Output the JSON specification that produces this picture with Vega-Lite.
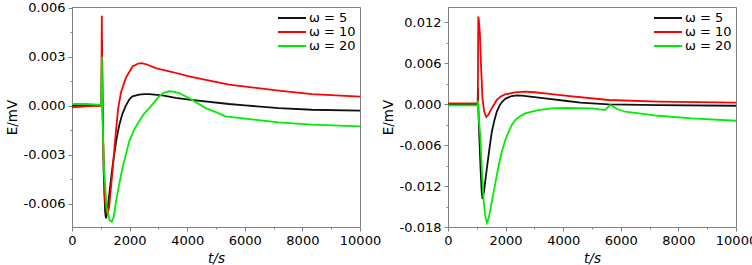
{
  "$schema": "https://vega.github.io/schema/vega-lite/v6.json",
  "padding": {"left": 4, "top": 1, "right": 0, "bottom": 0},
  "bounds": "flush",
  "spacing": 88,
  "config": {
    "font": "DejaVu Sans",
    "view": {"stroke": "#808080", "strokeWidth": 1},
    "axis": {"grid": false, "domainColor": "#808080", "tickColor": "#808080", "labelFont": "DejaVu Sans", "titleFont": "DejaVu Sans", "labelFontSize": 13, "titleFontSize": 13.5, "titleFontWeight": "normal", "labelColor": "#000000", "titleColor": "#000000", "labelPadding": 3, "labelOverlap": false, "labelFlush": false, "labelBound": false},
    "legend": {"symbolType": "M-2.33,0H2.33", "symbolSize": 144, "symbolStrokeWidth": 2, "labelFont": "DejaVu Sans", "labelFontSize": 13, "labelOffset": 10, "rowPadding": 0, "padding": 0, "offset": 4, "labelLimit": 0, "labelColor": "#000000"}
  },
  "datasets": {
    "curves": [
      {"p":"a","s":"ω = 5","t":0,"E":0.0},
      {"p":"a","s":"ω = 5","t":500,"E":0.00002},
      {"p":"a","s":"ω = 5","t":1000,"E":0.0},
      {"p":"a","s":"ω = 5","t":1025,"E":0.0},
      {"p":"a","s":"ω = 5","t":1040,"E":0.004},
      {"p":"a","s":"ω = 5","t":1060,"E":0.0},
      {"p":"a","s":"ω = 5","t":1100,"E":-0.004},
      {"p":"a","s":"ω = 5","t":1150,"E":-0.0065},
      {"p":"a","s":"ω = 5","t":1180,"E":-0.0069},
      {"p":"a","s":"ω = 5","t":1220,"E":-0.0066},
      {"p":"a","s":"ω = 5","t":1290,"E":-0.0055},
      {"p":"a","s":"ω = 5","t":1380,"E":-0.0041},
      {"p":"a","s":"ω = 5","t":1465,"E":-0.003},
      {"p":"a","s":"ω = 5","t":1550,"E":-0.002},
      {"p":"a","s":"ω = 5","t":1640,"E":-0.0012},
      {"p":"a","s":"ω = 5","t":1750,"E":-0.0005},
      {"p":"a","s":"ω = 5","t":1870,"E":0.0},
      {"p":"a","s":"ω = 5","t":2000,"E":0.0004},
      {"p":"a","s":"ω = 5","t":2100,"E":0.00057},
      {"p":"a","s":"ω = 5","t":2330,"E":0.00068},
      {"p":"a","s":"ω = 5","t":2500,"E":0.00071},
      {"p":"a","s":"ω = 5","t":2680,"E":0.00071},
      {"p":"a","s":"ω = 5","t":3140,"E":0.00063},
      {"p":"a","s":"ω = 5","t":3600,"E":0.00047},
      {"p":"a","s":"ω = 5","t":4060,"E":0.00037},
      {"p":"a","s":"ω = 5","t":5450,"E":0.0001},
      {"p":"a","s":"ω = 5","t":6000,"E":0.00002},
      {"p":"a","s":"ω = 5","t":7180,"E":-0.00015},
      {"p":"a","s":"ω = 5","t":8330,"E":-0.00025},
      {"p":"a","s":"ω = 5","t":10000,"E":-0.00031},

      {"p":"a","s":"ω = 10","t":0,"E":-0.0001},
      {"p":"a","s":"ω = 10","t":500,"E":-0.00005},
      {"p":"a","s":"ω = 10","t":1000,"E":0.0},
      {"p":"a","s":"ω = 10","t":1020,"E":0.0},
      {"p":"a","s":"ω = 10","t":1035,"E":0.0055},
      {"p":"a","s":"ω = 10","t":1045,"E":0.003},
      {"p":"a","s":"ω = 10","t":1080,"E":-0.002},
      {"p":"a","s":"ω = 10","t":1130,"E":-0.0055},
      {"p":"a","s":"ω = 10","t":1200,"E":-0.0066},
      {"p":"a","s":"ω = 10","t":1240,"E":-0.0066},
      {"p":"a","s":"ω = 10","t":1290,"E":-0.0062},
      {"p":"a","s":"ω = 10","t":1380,"E":-0.0045},
      {"p":"a","s":"ω = 10","t":1465,"E":-0.0028},
      {"p":"a","s":"ω = 10","t":1540,"E":-0.0013},
      {"p":"a","s":"ω = 10","t":1600,"E":-0.0002},
      {"p":"a","s":"ω = 10","t":1700,"E":0.0008},
      {"p":"a","s":"ω = 10","t":1870,"E":0.0017},
      {"p":"a","s":"ω = 10","t":2100,"E":0.0024},
      {"p":"a","s":"ω = 10","t":2300,"E":0.00258},
      {"p":"a","s":"ω = 10","t":2420,"E":0.0026},
      {"p":"a","s":"ω = 10","t":2600,"E":0.00252},
      {"p":"a","s":"ω = 10","t":2910,"E":0.0023},
      {"p":"a","s":"ω = 10","t":3485,"E":0.00206},
      {"p":"a","s":"ω = 10","t":4060,"E":0.00179},
      {"p":"a","s":"ω = 10","t":5450,"E":0.00129},
      {"p":"a","s":"ω = 10","t":7180,"E":0.00092},
      {"p":"a","s":"ω = 10","t":8330,"E":0.00071},
      {"p":"a","s":"ω = 10","t":10000,"E":0.00055},

      {"p":"a","s":"ω = 20","t":0,"E":0.0001},
      {"p":"a","s":"ω = 20","t":500,"E":0.0001},
      {"p":"a","s":"ω = 20","t":1000,"E":0.00005},
      {"p":"a","s":"ω = 20","t":1020,"E":0.0},
      {"p":"a","s":"ω = 20","t":1035,"E":0.003},
      {"p":"a","s":"ω = 20","t":1050,"E":0.0},
      {"p":"a","s":"ω = 20","t":1100,"E":-0.0035},
      {"p":"a","s":"ω = 20","t":1200,"E":-0.0062},
      {"p":"a","s":"ω = 20","t":1300,"E":-0.007},
      {"p":"a","s":"ω = 20","t":1380,"E":-0.0071},
      {"p":"a","s":"ω = 20","t":1450,"E":-0.0068},
      {"p":"a","s":"ω = 20","t":1525,"E":-0.0059},
      {"p":"a","s":"ω = 20","t":1640,"E":-0.0048},
      {"p":"a","s":"ω = 20","t":1755,"E":-0.0038},
      {"p":"a","s":"ω = 20","t":1870,"E":-0.003},
      {"p":"a","s":"ω = 20","t":1985,"E":-0.0022},
      {"p":"a","s":"ω = 20","t":2150,"E":-0.0015},
      {"p":"a","s":"ω = 20","t":2330,"E":-0.00096},
      {"p":"a","s":"ω = 20","t":2500,"E":-0.0005},
      {"p":"a","s":"ω = 20","t":2680,"E":-0.00015},
      {"p":"a","s":"ω = 20","t":2850,"E":0.0002},
      {"p":"a","s":"ω = 20","t":3025,"E":0.00057},
      {"p":"a","s":"ω = 20","t":3200,"E":0.0008},
      {"p":"a","s":"ω = 20","t":3370,"E":0.00088},
      {"p":"a","s":"ω = 20","t":3550,"E":0.00085},
      {"p":"a","s":"ω = 20","t":3715,"E":0.00077},
      {"p":"a","s":"ω = 20","t":4060,"E":0.00047},
      {"p":"a","s":"ω = 20","t":4640,"E":-0.00015},
      {"p":"a","s":"ω = 20","t":5000,"E":-0.0004},
      {"p":"a","s":"ω = 20","t":5330,"E":-0.00066},
      {"p":"a","s":"ω = 20","t":6030,"E":-0.0008},
      {"p":"a","s":"ω = 20","t":7180,"E":-0.00102},
      {"p":"a","s":"ω = 20","t":8330,"E":-0.00116},
      {"p":"a","s":"ω = 20","t":10000,"E":-0.00127},

      {"p":"b","s":"ω = 5","t":0,"E":0.0},
      {"p":"b","s":"ω = 5","t":1000,"E":0.0},
      {"p":"b","s":"ω = 5","t":1030,"E":0.0},
      {"p":"b","s":"ω = 5","t":1040,"E":0.0024},
      {"p":"b","s":"ω = 5","t":1050,"E":0.0},
      {"p":"b","s":"ω = 5","t":1085,"E":-0.0045},
      {"p":"b","s":"ω = 5","t":1130,"E":-0.0094},
      {"p":"b","s":"ω = 5","t":1170,"E":-0.0128},
      {"p":"b","s":"ω = 5","t":1198,"E":-0.0139},
      {"p":"b","s":"ω = 5","t":1250,"E":-0.0128},
      {"p":"b","s":"ω = 5","t":1350,"E":-0.0094},
      {"p":"b","s":"ω = 5","t":1440,"E":-0.0065},
      {"p":"b","s":"ω = 5","t":1520,"E":-0.0041},
      {"p":"b","s":"ω = 5","t":1610,"E":-0.0024},
      {"p":"b","s":"ω = 5","t":1695,"E":-0.0011},
      {"p":"b","s":"ω = 5","t":1780,"E":-0.0003},
      {"p":"b","s":"ω = 5","t":1870,"E":0.0003},
      {"p":"b","s":"ω = 5","t":2000,"E":0.0008},
      {"p":"b","s":"ω = 5","t":2215,"E":0.00117},
      {"p":"b","s":"ω = 5","t":2400,"E":0.00125},
      {"p":"b","s":"ω = 5","t":2560,"E":0.00122},
      {"p":"b","s":"ω = 5","t":3000,"E":0.001},
      {"p":"b","s":"ω = 5","t":3370,"E":0.00082},
      {"p":"b","s":"ω = 5","t":4060,"E":0.00048},
      {"p":"b","s":"ω = 5","t":4600,"E":0.0002},
      {"p":"b","s":"ω = 5","t":5580,"E":-0.00006},
      {"p":"b","s":"ω = 5","t":7310,"E":-0.00015},
      {"p":"b","s":"ω = 5","t":10000,"E":-0.00025},

      {"p":"b","s":"ω = 10","t":0,"E":0.0001},
      {"p":"b","s":"ω = 10","t":1000,"E":0.0001},
      {"p":"b","s":"ω = 10","t":1035,"E":0.0001},
      {"p":"b","s":"ω = 10","t":1052,"E":0.0128},
      {"p":"b","s":"ω = 10","t":1068,"E":0.0124},
      {"p":"b","s":"ω = 10","t":1106,"E":0.0105},
      {"p":"b","s":"ω = 10","t":1152,"E":0.0052},
      {"p":"b","s":"ω = 10","t":1198,"E":0.0008},
      {"p":"b","s":"ω = 10","t":1256,"E":-0.0011},
      {"p":"b","s":"ω = 10","t":1325,"E":-0.0019},
      {"p":"b","s":"ω = 10","t":1400,"E":-0.0016},
      {"p":"b","s":"ω = 10","t":1460,"E":-0.0011},
      {"p":"b","s":"ω = 10","t":1520,"E":-0.0006},
      {"p":"b","s":"ω = 10","t":1610,"E":0.0},
      {"p":"b","s":"ω = 10","t":1695,"E":0.0006},
      {"p":"b","s":"ω = 10","t":1830,"E":0.0011},
      {"p":"b","s":"ω = 10","t":1985,"E":0.0014},
      {"p":"b","s":"ω = 10","t":2330,"E":0.0017},
      {"p":"b","s":"ω = 10","t":2675,"E":0.0018},
      {"p":"b","s":"ω = 10","t":3000,"E":0.00172},
      {"p":"b","s":"ω = 10","t":3370,"E":0.00155},
      {"p":"b","s":"ω = 10","t":4060,"E":0.00122},
      {"p":"b","s":"ω = 10","t":5580,"E":0.00059},
      {"p":"b","s":"ω = 10","t":7310,"E":0.00034},
      {"p":"b","s":"ω = 10","t":10000,"E":0.0002},

      {"p":"b","s":"ω = 20","t":0,"E":-0.0002},
      {"p":"b","s":"ω = 20","t":1000,"E":-0.0002},
      {"p":"b","s":"ω = 20","t":1030,"E":-0.0002},
      {"p":"b","s":"ω = 20","t":1040,"E":0.0005},
      {"p":"b","s":"ω = 20","t":1050,"E":-0.001},
      {"p":"b","s":"ω = 20","t":1118,"E":-0.0045},
      {"p":"b","s":"ω = 20","t":1175,"E":-0.0094},
      {"p":"b","s":"ω = 20","t":1233,"E":-0.0139},
      {"p":"b","s":"ω = 20","t":1290,"E":-0.0163},
      {"p":"b","s":"ω = 20","t":1350,"E":-0.0174},
      {"p":"b","s":"ω = 20","t":1420,"E":-0.0166},
      {"p":"b","s":"ω = 20","t":1520,"E":-0.0143},
      {"p":"b","s":"ω = 20","t":1610,"E":-0.0123},
      {"p":"b","s":"ω = 20","t":1695,"E":-0.0104},
      {"p":"b","s":"ω = 20","t":1780,"E":-0.0086},
      {"p":"b","s":"ω = 20","t":1870,"E":-0.007},
      {"p":"b","s":"ω = 20","t":1985,"E":-0.0053},
      {"p":"b","s":"ω = 20","t":2100,"E":-0.0041},
      {"p":"b","s":"ω = 20","t":2210,"E":-0.0031},
      {"p":"b","s":"ω = 20","t":2330,"E":-0.00235},
      {"p":"b","s":"ω = 20","t":2500,"E":-0.0018},
      {"p":"b","s":"ω = 20","t":2675,"E":-0.00138},
      {"p":"b","s":"ω = 20","t":3135,"E":-0.00088},
      {"p":"b","s":"ω = 20","t":3600,"E":-0.00064},
      {"p":"b","s":"ω = 20","t":4060,"E":-0.00058},
      {"p":"b","s":"ω = 20","t":5000,"E":-0.00064},
      {"p":"b","s":"ω = 20","t":5445,"E":-0.00088},
      {"p":"b","s":"ω = 20","t":5640,"E":-0.00015},
      {"p":"b","s":"ω = 20","t":5870,"E":-0.00073},
      {"p":"b","s":"ω = 20","t":6160,"E":-0.00113},
      {"p":"b","s":"ω = 20","t":7310,"E":-0.00172},
      {"p":"b","s":"ω = 20","t":8465,"E":-0.00211},
      {"p":"b","s":"ω = 20","t":10000,"E":-0.00245}
    ]
  },
  "data": {"name": "curves"},
  "resolve": {"scale": {"color": "independent"}, "legend": {"color": "independent"}},
  "hconcat": [
    {
      "width": 288,
      "height": 220,
      "transform": [{"filter": "datum.p == 'a'"}],
      "mark": {"type": "line", "strokeWidth": 1.8},
      "encoding": {
        "x": {"field": "t", "type": "quantitative", "scale": {"domain": [0, 10000], "nice": false, "zero": false},
              "axis": {"title": "t/s", "titleFontStyle": "italic", "titlePadding": 4,
                       "values": [0,1000,2000,3000,4000,5000,6000,7000,8000,9000,10000],
                       "labelExpr": "datum.value % 2000 ? '' : '' + datum.value",
                       "tickSize": {"condition": {"test": "datum.value % 2000 === 0", "value": 4}, "value": 2}}},
        "y": {"field": "E", "type": "quantitative", "scale": {"domain": [-0.00743, 0.00604], "nice": false, "zero": false},
              "axis": {"title": "E/mV", "titlePadding": 4,
                       "values": [-0.006,-0.0045,-0.003,-0.0015,0,0.0015,0.003,0.0045,0.006],
                       "labelExpr": "abs(round(datum.value/0.0015)) % 2 ? '' : (datum.value < -1e-9 ? '-' + format(-datum.value, '.3f') : format(abs(datum.value), '.3f'))",
                       "tickSize": {"condition": {"test": "abs(round(datum.value/0.0015)) % 2 === 0", "value": 4}, "value": 2}}},
        "color": {"field": "s", "type": "nominal",
                  "scale": {"domain": ["ω = 5", "ω = 10", "ω = 20"], "range": ["#111111", "#ff0000", "#00ee00"]},
                  "legend": {"title": null, "orient": "top-right"}}
      }
    },
    {
      "width": 288,
      "height": 220,
      "transform": [{"filter": "datum.p == 'b'"}],
      "mark": {"type": "line", "strokeWidth": 1.8},
      "encoding": {
        "x": {"field": "t", "type": "quantitative", "scale": {"domain": [0, 10000], "nice": false, "zero": false},
              "axis": {"title": "t/s", "titleFontStyle": "italic", "titlePadding": 4,
                       "values": [0,1000,2000,3000,4000,5000,6000,7000,8000,9000,10000],
                       "labelExpr": "datum.value % 2000 ? '' : '' + datum.value",
                       "tickSize": {"condition": {"test": "datum.value % 2000 === 0", "value": 4}, "value": 2}}},
        "y": {"field": "E", "type": "quantitative", "scale": {"domain": [-0.018, 0.0142], "nice": false, "zero": false},
              "axis": {"title": "E/mV", "titlePadding": 4,
                       "values": [-0.018,-0.015,-0.012,-0.009,-0.006,-0.003,0,0.003,0.006,0.009,0.012],
                       "labelExpr": "abs(round(datum.value/0.003)) % 2 ? '' : (datum.value < -1e-9 ? '-' + format(-datum.value, '.3f') : format(abs(datum.value), '.3f'))",
                       "tickSize": {"condition": {"test": "abs(round(datum.value/0.003)) % 2 === 0", "value": 4}, "value": 2}}},
        "color": {"field": "s", "type": "nominal",
                  "scale": {"domain": ["ω = 5", "ω = 10", "ω = 20"], "range": ["#111111", "#ff0000", "#00ee00"]},
                  "legend": {"title": null, "orient": "top-right"}}
      }
    }
  ]
}
